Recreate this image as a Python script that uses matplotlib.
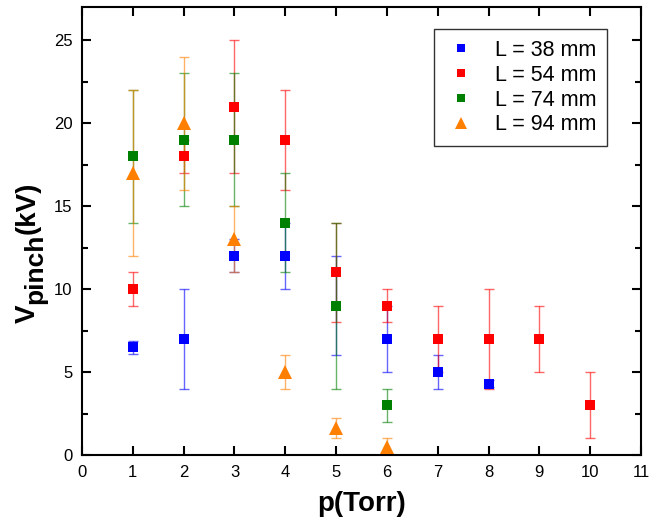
import matplotlib
matplotlib.use("Agg")
import matplotlib.pyplot as plt
from matplotlib.ticker import MultipleLocator

plt.rcParams['font.family'] = ['Liberation Sans', 'DejaVu Sans']

# L = 38 mm
x38 = [1, 2, 3, 4, 5, 6, 7, 8]
y38 = [6.5, 7, 12, 12, 9, 7, 5, 4.3]
e38 = [0.4, 3, 1, 2, 3, 2, 1, 0.2]
# L = 54 mm
x54 = [1, 2, 3, 4, 5, 6, 7, 8, 9, 10]
y54 = [10, 18, 21, 19, 11, 9, 7, 7, 7, 3]
e54 = [1, 1, 4, 3, 3, 1, 2, 3, 2, 2]
# L = 74 mm
x74 = [1, 2, 3, 4, 5, 6]
y74 = [18, 19, 19, 14, 9, 3]
e74 = [4, 4, 4, 3, 5, 1]
# L = 94 mm
x94 = [1, 2, 3, 4, 5, 6]
y94 = [17, 20, 13, 5, 1.6, 0.5]
e94 = [5, 4, 2, 1, 0.6, 0.5]

labels = ['L = 38 mm', 'L = 54 mm', 'L = 74 mm', 'L = 94 mm']
colors = ['#0000ff', '#ff0000', '#008000', '#ff8000']
markers = ['s', 's', 's', '^']

W, H = 653, 531
fig = plt.figure(figsize=(W / 100, H / 100), dpi=100)
ax = fig.add_axes([82 / W, (H - 455) / H, (641 - 82) / W, (455 - 7) / H])

series = [(x38, y38, e38), (x54, y54, e54), (x74, y74, e74), (x94, y94, e94)]
handles = []
for i, (xs, ys, es) in enumerate(series):
    ax.errorbar(xs, ys, yerr=es, fmt='none', ecolor=colors[i], elinewidth=1.0,
                capsize=3.7, capthick=1.0, alpha=0.6, zorder=2)
for i, (xs, ys, es) in enumerate(series):
    ms = 6.5 if markers[i] == 's' else 9.5
    h, = ax.plot(xs, ys, linestyle='none', marker=markers[i], color=colors[i],
                 markersize=ms, markeredgewidth=0, label=labels[i], zorder=3)
    handles.append(h)

ax.set_xlim(0, 11)
ax.set_ylim(0, 27)
ax.xaxis.set_major_locator(MultipleLocator(1))
ax.yaxis.set_major_locator(MultipleLocator(5))
ax.yaxis.set_minor_locator(MultipleLocator(2.5))

ax.tick_params(axis='both', which='both', direction='in', top=True, right=True,
               labelsize=12, width=1.5, pad=7)
ax.tick_params(axis='both', which='major', length=6.5)
ax.tick_params(axis='both', which='minor', length=4.3)
ax.tick_params(axis='x', which='minor', top=False, bottom=False)
for s in ax.spines.values():
    s.set_linewidth(1.5)

ax.set_xlabel('p(Torr)', fontsize=20, fontweight='bold', labelpad=8)

# y label "V_pinch(kV)" built from pieces (subscript nearly full size)
renderer = fig.canvas.get_renderer()
pieces = [('V', 20, 35), ('pinch', 19, 42), ('(kV)', 20, 35)]
ypos = H - 323
for txt, fs, xb in pieces:
    t = fig.text(xb / W, ypos / H, txt, fontsize=fs, fontweight='bold',
                 rotation=90, rotation_mode='anchor', ha='left', va='baseline')
    ext = t.get_window_extent(renderer)
    ypos += ext.height

leg = ax.legend(handles=handles, loc='upper right', bbox_to_anchor=((607 - 82) / 559, (455 - 29) / 448),
                borderaxespad=0, fontsize=15.5, frameon=True, fancybox=False, edgecolor='black',
                handlelength=1.5, handletextpad=0.8, markerscale=0.85,
                borderpad=0.5, labelspacing=0.18)
leg.get_frame().set_linewidth(1.0)

fig.savefig('out.png', dpi=100)
